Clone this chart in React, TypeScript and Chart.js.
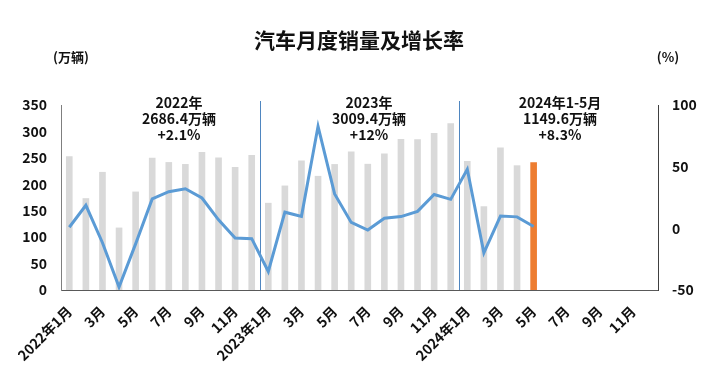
import React, { useEffect, useRef } from "react";
import { Chart, registerables } from "chart.js";

Chart.register(...registerables);

const YEARS = [2022, 2023, 2024];
const MONTH_LABELS: string[] = [];
YEARS.forEach((y) => {
  for (let m = 1; m <= 12; m++) MONTH_LABELS.push(m === 1 ? `${y}年1月` : `${m}月`);
});

// monthly sales (万辆), 2022-01 .. 2024-05
const SALES = [
  253.1, 173.7, 223.4, 118.1, 186.2, 250.2, 242.0, 238.3, 261.0, 250.5, 232.7, 255.6,
  164.9, 197.6, 245.1, 215.9, 238.2, 262.2, 238.7, 258.2, 285.8, 285.3, 297.0, 315.6,
  243.9, 158.4, 269.4, 235.9, 241.7,
];
// year-on-year growth (%)
const GROWTH = [
  0.9, 18.7, -11.7, -47.6, -12.6, 23.8, 29.7, 32.1, 24.6, 6.9, -7.9, -8.4,
  -35.0, 13.1, 9.7, 82.7, 27.9, 4.8, -1.4, 8.2, 9.5, 13.8, 27.4, 23.5,
  47.9, -19.9, 9.9, 9.3, 1.5,
];
const LEFT_TICKS = [0, 50, 100, 150, 200, 250, 300, 350];
const RIGHT_TICKS = [-50, 0, 50, 100];
const TITLE = "汽车月度销量及增长率";
const LEFT_UNIT = "(万辆)";
const RIGHT_UNIT = "(%)";
const YEAR_NOTES = [
  ["2022年", "2686.4万辆", "+2.1%"],
  ["2023年", "3009.4万辆", "+12%"],
  ["2024年1-5月", "1149.6万辆", "+8.3%"],
];

const FONT = '"Noto Sans CJK SC", "Noto Sans", sans-serif';
const GRAY = "#d9d9d9";
const ORANGE = "#ed7d31";
const BLUE = "#5b9bd5";

export default function App() {
  const ref = useRef<HTMLCanvasElement | null>(null);

  useEffect(() => {
    document.body.style.margin = "0";
    const canvas = ref.current;
    if (!canvas) return;

    const barData: (number | null)[] = MONTH_LABELS.map((_, i) => (i < SALES.length ? SALES[i] : null));
    const lineData: (number | null)[] = MONTH_LABELS.map((_, i) => (i < GROWTH.length ? GROWTH[i] : null));
    const barColors = MONTH_LABELS.map((_, i) => (i === SALES.length - 1 ? ORANGE : GRAY));

    const overlay = {
      id: "overlay",
      beforeDatasetsDraw(chart: any) {
        const { ctx, scales } = chart;
        const x = scales.x;
        const area = chart.chartArea;
        ctx.save();
        ctx.strokeStyle = "#4f86c0";
        ctx.lineWidth = 1;
        [12, 24].forEach((idx) => {
          const px = Math.round((x.getPixelForTick(idx - 1) + x.getPixelForTick(idx)) / 2) + 0.5;
          ctx.beginPath();
          ctx.moveTo(px, area.top - 4);
          ctx.lineTo(px, area.bottom);
          ctx.stroke();
        });
        ctx.restore();
      },
      afterDraw(chart: any) {
        const { ctx } = chart;
        const area = chart.chartArea;
        ctx.save();
        ctx.fillStyle = "#111";
        ctx.textAlign = "center";
        ctx.textBaseline = "middle";
        ctx.font = `bold 21px ${FONT}`;
        ctx.fillText(TITLE, 359, 40);
        ctx.font = `bold 13px ${FONT}`;
        ctx.fillText(LEFT_UNIT, 71, 57);
        ctx.fillText(RIGHT_UNIT, 668, 57);

        const w = area.right - area.left;
        const centers = [(179 - area.left) / w, (369 - area.left) / w, (560 - area.left) / w];
        ctx.font = `bold 14px ${FONT}`;
        YEAR_NOTES.forEach((lines, k) => {
          const cx = area.left + w * centers[k];
          lines.forEach((t, j) => {
            ctx.fillText(t, cx, 103 + j * 16);
          });
        });
        ctx.restore();
      },
    };

    const chart = new Chart(canvas, {
      type: "bar",
      data: {
        labels: MONTH_LABELS,
        datasets: [
          {
            type: "line",
            label: "增长率",
            data: lineData,
            yAxisID: "y1",
            borderColor: BLUE,
            borderWidth: 3,
            pointRadius: 0,
            tension: 0,
            order: 0,
          } as any,
          {
            type: "bar",
            label: "销量",
            data: barData,
            yAxisID: "y",
            backgroundColor: barColors,
            categoryPercentage: 1,
            barPercentage: 0.4,
            order: 1,
          },
        ],
      },
      options: {
        responsive: false,
        animation: false,
        layout: { padding: { top: 105, left: 0, right: 0, bottom: 0 } },
        plugins: {
          legend: { display: false },
          tooltip: { enabled: false },
          title: { display: false },
        },
        scales: {
          x: {
            grid: { display: false, drawTicks: false },
            border: { display: true, color: "#595959", width: 1 },
            ticks: {
              autoSkip: false,
              minRotation: 45,
              maxRotation: 45,
              padding: 13,
              color: "#111",
              font: { family: FONT, size: 14, weight: "bold" },
              callback: (_v: any, i: number) => (i % 2 === 0 ? MONTH_LABELS[i] : ""),
            },
            afterFit: (s: any) => {
              s.height = 97;
            },
          },
          y: {
            position: "left",
            min: 0,
            max: 350,
            grid: { display: false, drawTicks: false },
            border: { display: true, color: "#7f7f7f", width: 1 },
            afterBuildTicks: (s: any) => {
              s.ticks = LEFT_TICKS.map((v) => ({ value: v }));
            },
            ticks: {
              padding: 14,
              color: "#111",
              font: { family: FONT, size: 14, weight: "bold" },
            },
            afterFit: (s: any) => {
              s.width = 61;
            },
          },
          y1: {
            position: "right",
            min: -50,
            max: 100,
            grid: { display: false, drawTicks: false },
            border: { display: true, color: "#404040", width: 1 },
            afterBuildTicks: (s: any) => {
              s.ticks = RIGHT_TICKS.map((v) => ({ value: v }));
            },
            ticks: {
              padding: 14,
              color: "#111",
              font: { family: FONT, size: 14, weight: "bold" },
            },
            afterFit: (s: any) => {
              s.width = 66;
            },
          },
        },
      },
      plugins: [overlay],
    });

    return () => chart.destroy();
  }, []);

  return (
    <div style={{ width: 724, height: 387, background: "#fff" }}>
      <canvas ref={ref} width={724} height={387} />
    </div>
  );
}
